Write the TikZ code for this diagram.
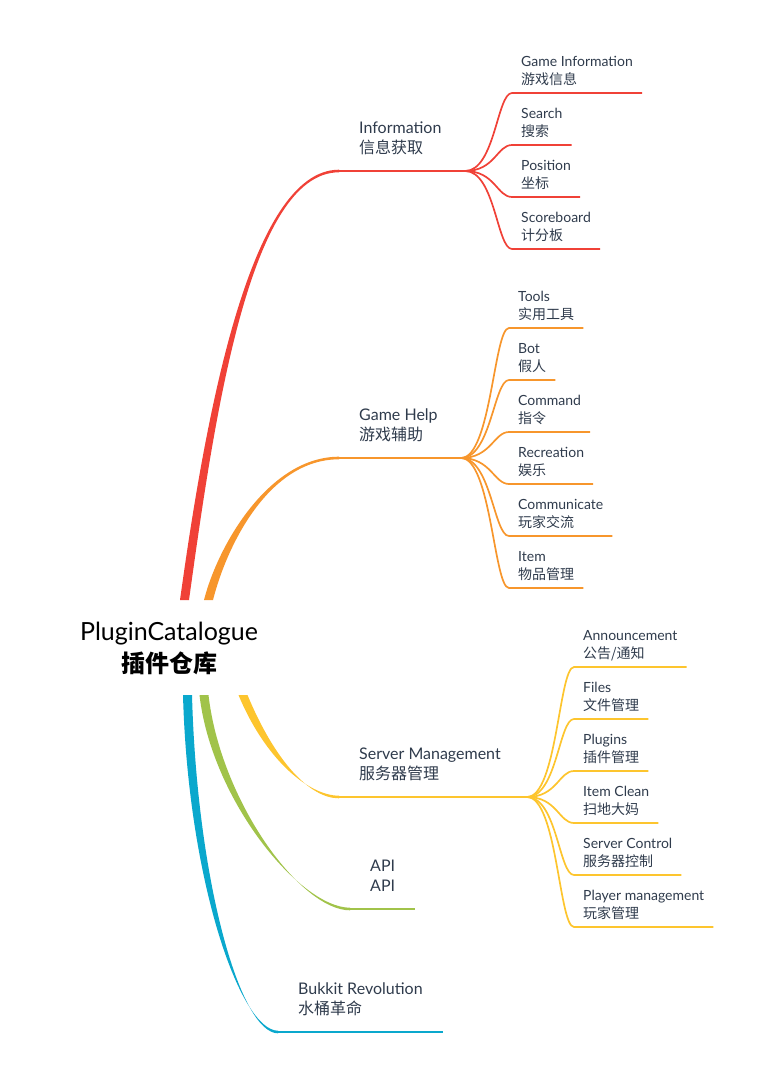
\documentclass[tikz,border=0pt]{standalone}
\usepackage{fontspec}
\setmainfont{Lato}
\newfontfamily\cjk{Noto Sans CJK SC}

\definecolor{rosso}{HTML}{F04137}
\definecolor{arancio}{HTML}{F7962C}
\definecolor{giallo}{HTML}{FDC52E}
\definecolor{verde}{HTML}{A1C34A}
\definecolor{azzurro}{HTML}{0AA8CD}
\definecolor{testo}{HTML}{2F3B4C}

\tikzset{
  radice/.style={align=center, inner sep=0pt, text depth=0pt, anchor=south, font=\fontsize{25}{32}\selectfont},
  ramo/.style={anchor=south west, align=left, inner xsep=20pt, inner ysep=17pt, text depth=0pt, text=testo, font=\fontsize{16}{20.5}\selectfont},
  foglia/.style={anchor=south west, align=left, inner xsep=9pt, inner ysep=8.5pt, text depth=0pt, text=testo, font=\fontsize{14}{17.5}\selectfont},
  linea/.style={line width=2pt},
  filo/.style={line width=1.7pt}
}

\newcommand{\tronco}[5]{% ramo rastremato
  \fill[#1] ([xshift=-4.5pt]#2) .. controls +#4 and +#5 .. ([yshift=1.3pt]#3)
    -- ([yshift=-1.3pt]#3) .. controls +#5 and +#4 .. ([xshift=4.5pt]#2) -- cycle;}

\begin{document}
\begin{tikzpicture}[x=1pt, y=-1pt]
\useasboundingbox (0,0) rectangle (767,1084);

\node[radice] (root) at (169,673) {PluginCatalogue\\{\cjk\bfseries\fontsize{24}{32}\selectfont 插件仓库}};
\coordinate (rInf) at (184.5,600); \coordinate (rHelp) at (208.5,600);
\coordinate (rSrv) at (243,695); \coordinate (rApi) at (204,695); \coordinate (rBuk) at (187.5,695);

%Information
\node[ramo] (inf) at (339,171) {Information\\{\cjk 信息获取}};
\coordinate (infj) at (465,171);
\tronco{rosso}{rInf}{inf.south west}{(25,-180)}{(-90,0)}
\draw[linea,rosso] (inf.south west) -- (infj);

\node[foglia] (gameinfo) at (512,93) {Game Information\\{\cjk 游戏信息}};
\node[foglia] (search) at (512,145) {Search\\{\cjk 搜索}};
\node[foglia] (position) at (512,197) {Position\\{\cjk 坐标}};
\node[foglia] (scoreboard) at (512,249) {Scoreboard\\{\cjk 计分板}};
\draw[filo,rosso] (infj) .. controls +(30,0) and +(-15,0) .. (gameinfo.south west) -- (gameinfo.south east);
\draw[filo,rosso] (infj) .. controls +(30,0) and +(-15,0) .. (search.south west) -- (search.south east);
\draw[filo,rosso] (infj) .. controls +(30,0) and +(-15,0) .. (position.south west) -- (position.south east);
\draw[filo,rosso] (infj) .. controls +(30,0) and +(-15,0) .. (scoreboard.south west) -- (scoreboard.south east);

%Game Help
\node[ramo] (help) at (339,458) {Game Help\\{\cjk 游戏辅助}};
\coordinate (helpj) at (461,458);
\tronco{arancio}{rHelp}{help.south west}{(14,-55)}{(-70,0)}
\draw[linea,arancio] (help.south west) -- (helpj);

\node[foglia] (tools) at (509,328) {Tools\\{\cjk 实用工具}};
\node[foglia] (bot) at (509,380) {Bot\\{\cjk 假人}};
\node[foglia] (command) at (509,432) {Command\\{\cjk 指令}};
\node[foglia] (recreation) at (509,484) {Recreation\\{\cjk 娱乐}};
\node[foglia] (communicate) at (509,536) {Communicate\\{\cjk 玩家交流}};
\node[foglia] (item) at (509,588) {Item\\{\cjk 物品管理}};
\draw[filo,arancio] (helpj) .. controls +(30,0) and +(-15,0) .. (tools.south west) -- (tools.south east);
\draw[filo,arancio] (helpj) .. controls +(30,0) and +(-15,0) .. (bot.south west) -- (bot.south east);
\draw[filo,arancio] (helpj) .. controls +(30,0) and +(-15,0) .. (command.south west) -- (command.south east);
\draw[filo,arancio] (helpj) .. controls +(30,0) and +(-15,0) .. (recreation.south west) -- (recreation.south east);
\draw[filo,arancio] (helpj) .. controls +(30,0) and +(-15,0) .. (communicate.south west) -- (communicate.south east);
\draw[filo,arancio] (helpj) .. controls +(30,0) and +(-15,0) .. (item.south west) -- (item.south east);

%Server Management
\node[ramo] (srv) at (339,797) {Server Management\\{\cjk 服务器管理}};
\coordinate (srvj) at (527,797);
\tronco{giallo}{rSrv}{srv.south west}{(27,65)}{(-30,0)}
\draw[linea,giallo] (srv.south west) -- (srvj);

\node[foglia] (announce) at (574,667) {Announcement\\{\cjk 公告/通知}};
\node[foglia] (files) at (574,719) {Files\\{\cjk 文件管理}};
\node[foglia] (plugins) at (574,771) {Plugins\\{\cjk 插件管理}};
\node[foglia] (itemclean) at (574,823) {Item Clean\\{\cjk 扫地大妈}};
\node[foglia] (srvcontrol) at (574,875) {Server Control\\{\cjk 服务器控制}};
\node[foglia] (playerman) at (574,927) {Player management\\{\cjk 玩家管理}};
\draw[filo,giallo] (srvj) .. controls +(30,0) and +(-15,0) .. (announce.south west) -- (announce.south east);
\draw[filo,giallo] (srvj) .. controls +(30,0) and +(-15,0) .. (files.south west) -- (files.south east);
\draw[filo,giallo] (srvj) .. controls +(30,0) and +(-15,0) .. (plugins.south west) -- (plugins.south east);
\draw[filo,giallo] (srvj) .. controls +(30,0) and +(-15,0) .. (itemclean.south west) -- (itemclean.south east);
\draw[filo,giallo] (srvj) .. controls +(30,0) and +(-15,0) .. (srvcontrol.south west) -- (srvcontrol.south east);
\draw[filo,giallo] (srvj) .. controls +(30,0) and +(-15,0) .. (playerman.south west) -- (playerman.south east);

%API
\node[ramo] (api) at (350,909) {API\\API};
\tronco{verde}{rApi}{api.south west}{(12,105)}{(-50,0)}
\draw[linea,verde] (api.south west) -- (api.south east);

%Bukkit Revolution
\node[ramo] (bukkit) at (278,1032) {Bukkit Revolution\\{\cjk 水桶革命}};
\tronco{azzurro}{rBuk}{bukkit.south west}{(5,185)}{(-38,0)}
\draw[linea,azzurro] (bukkit.south west) -- (bukkit.south east);

\end{tikzpicture}
\end{document}
